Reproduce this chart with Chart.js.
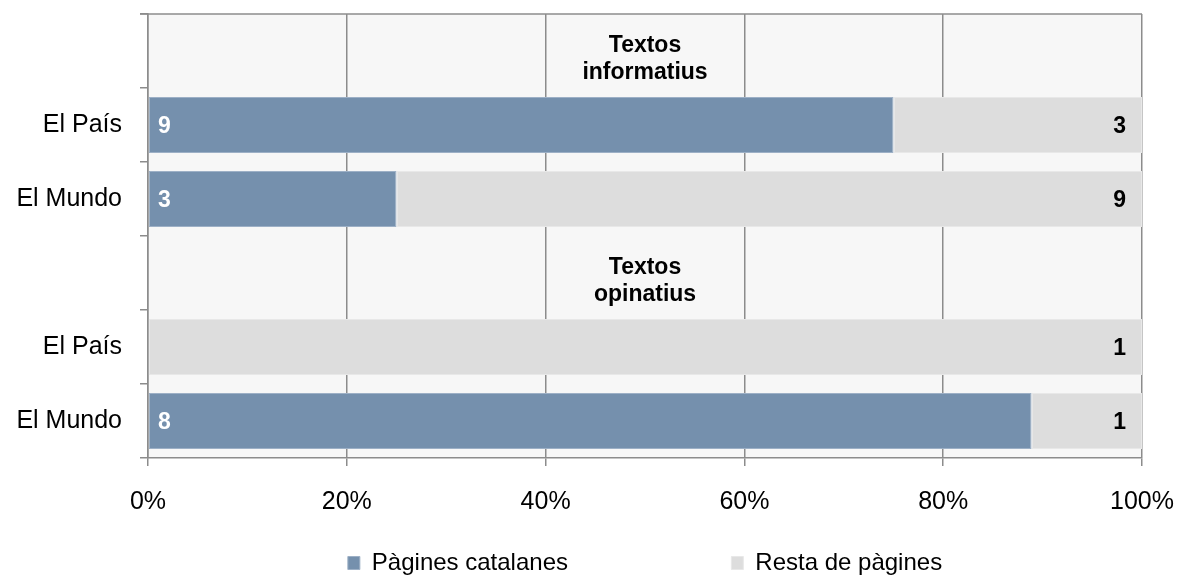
<!DOCTYPE html>
<html>
<head>
<meta charset="utf-8">
<script src="https://cdn.jsdelivr.net/npm/chart.js@4/dist/chart.umd.min.js"></script>
<style>
body{margin:0;background:#fff;}
#wrap{width:1179px;height:576px;}
</style>
</head>
<body>
<div id="wrap"><canvas id="chart"></canvas></div>
<script>
// DATA
const rows=["","El País","El Mundo","","El País","El Mundo"];
const headers=[["Textos","informatius"],null,null,["Textos","opinatius"],null,null];
const catalanes=[null,9,3,null,0,8];
const resta=[null,3,9,null,1,1];
const xTicks=[0,20,40,60,80,100];

const FONT="'Liberation Sans', Arial, sans-serif";

function share(a,b,i){
    if(a[i]==null) return null;
    return a[i]/(a[i]+b[i])*100;
}
const pctCat=rows.map((r,i)=>share(catalanes,resta,i));
const pctRest=rows.map((r,i)=>share(resta,catalanes,i));

// fons de l'area + linia superior
const bgPlugin={
    id:"bg",
    beforeDraw(c){
        const a=c.chartArea, ctx=c.ctx;
        ctx.save();
        ctx.fillStyle="#f7f7f7";
        ctx.fillRect(a.left,a.top,a.right-a.left,a.bottom-a.top);
        ctx.restore();
    },
    afterDraw(c){
        const a=c.chartArea, ctx=c.ctx;
        ctx.save();
        ctx.strokeStyle="#8c8c8c";
        ctx.lineWidth=1.5;
        ctx.beginPath();
        ctx.moveTo(a.left-8,a.top);
        ctx.lineTo(a.right,a.top);
        ctx.stroke();
        ctx.restore();
    }
};

// etiquetes de valors i titols de grup
const labelPlugin={
    id:"labels",
    afterDatasetsDraw(c){
        const ctx=c.ctx;
        const x=c.scales.x, y=c.scales.y;
        ctx.save();
        ctx.font="bold 23px "+FONT;
        ctx.textBaseline="middle";
        c.getDatasetMeta(0).data.forEach((el,i)=>{
            if(!catalanes[i]) return;
            ctx.fillStyle="#fff";
            ctx.textAlign="left";
            ctx.fillText(catalanes[i],x.getPixelForValue(0)+10,el.y+2);
        });
        c.getDatasetMeta(1).data.forEach((el,i)=>{
            if(!resta[i]) return;
            ctx.fillStyle="#000";
            ctx.textAlign="right";
            ctx.fillText(resta[i],x.getPixelForValue(100)-16,el.y+2);
        });
        ctx.textAlign="center";
        headers.forEach((h,i)=>{
            if(!h) return;
            const cy=y.getPixelForValue(i);
            ctx.fillText(h[0],x.getPixelForValue(50),cy-5);
            ctx.fillText(h[1],x.getPixelForValue(50),cy+22);
        });
        ctx.restore();
    }
};

new Chart(document.getElementById("chart"),{
    type:"bar",
    data:{
        labels:rows,
        datasets:[
            {label:"Pàgines catalanes",data:pctCat,backgroundColor:"#7590ad",borderColor:"#9db0c6",borderWidth:1,borderSkipped:false},
            {label:"Resta de pàgines",data:pctRest,backgroundColor:"#dddddd",borderColor:"#e8e8e8",borderWidth:1,borderSkipped:false}
        ]
    },
    options:{
        indexAxis:"y",
        responsive:true,
        maintainAspectRatio:false,
        animation:false,
        datasets:{bar:{categoryPercentage:1,barPercentage:0.76}},
        layout:{padding:0},
        scales:{
            x:{
                stacked:true,
                min:0,max:100,
                afterBuildTicks(s){s.ticks=xTicks.map(v=>({value:v}));},
                afterFit(s){s.paddingRight=37;s.paddingLeft=0;s.height=83;},
                grid:{color:"#8c8c8c",lineWidth:1.5,tickLength:8},
                border:{color:"#8c8c8c",width:1.5},
                ticks:{color:"#000",font:{family:FONT,size:25},padding:21,callback:v=>v+"%"}
            },
            y:{
                stacked:true,
                afterFit(s){s.paddingTop=14;s.paddingBottom=0;s.width=148;},
                grid:{offset:true,drawOnChartArea:false,color:"#8c8c8c",lineWidth:1.5,tickLength:8},
                border:{color:"#8c8c8c",width:1.5},
                ticks:{color:"#000",font:{family:FONT,size:25},padding:18}
            }
        },
        plugins:{
            tooltip:{enabled:false},
            legend:{
                position:"bottom",
                fullSize:false,
                maxHeight:35,
                labels:{
                    color:"#000",
                    font:{family:FONT,size:24},
                    boxWidth:12,boxHeight:13,
                    padding:10,
                    generateLabels(c){
                        const items=Chart.defaults.plugins.legend.labels.generateLabels(c);
                        items[0].text+=" ".repeat(23);
                        return items;
                    }
                }
            }
        }
    },
    plugins:[bgPlugin,labelPlugin]
});
</script>
</body>
</html>
